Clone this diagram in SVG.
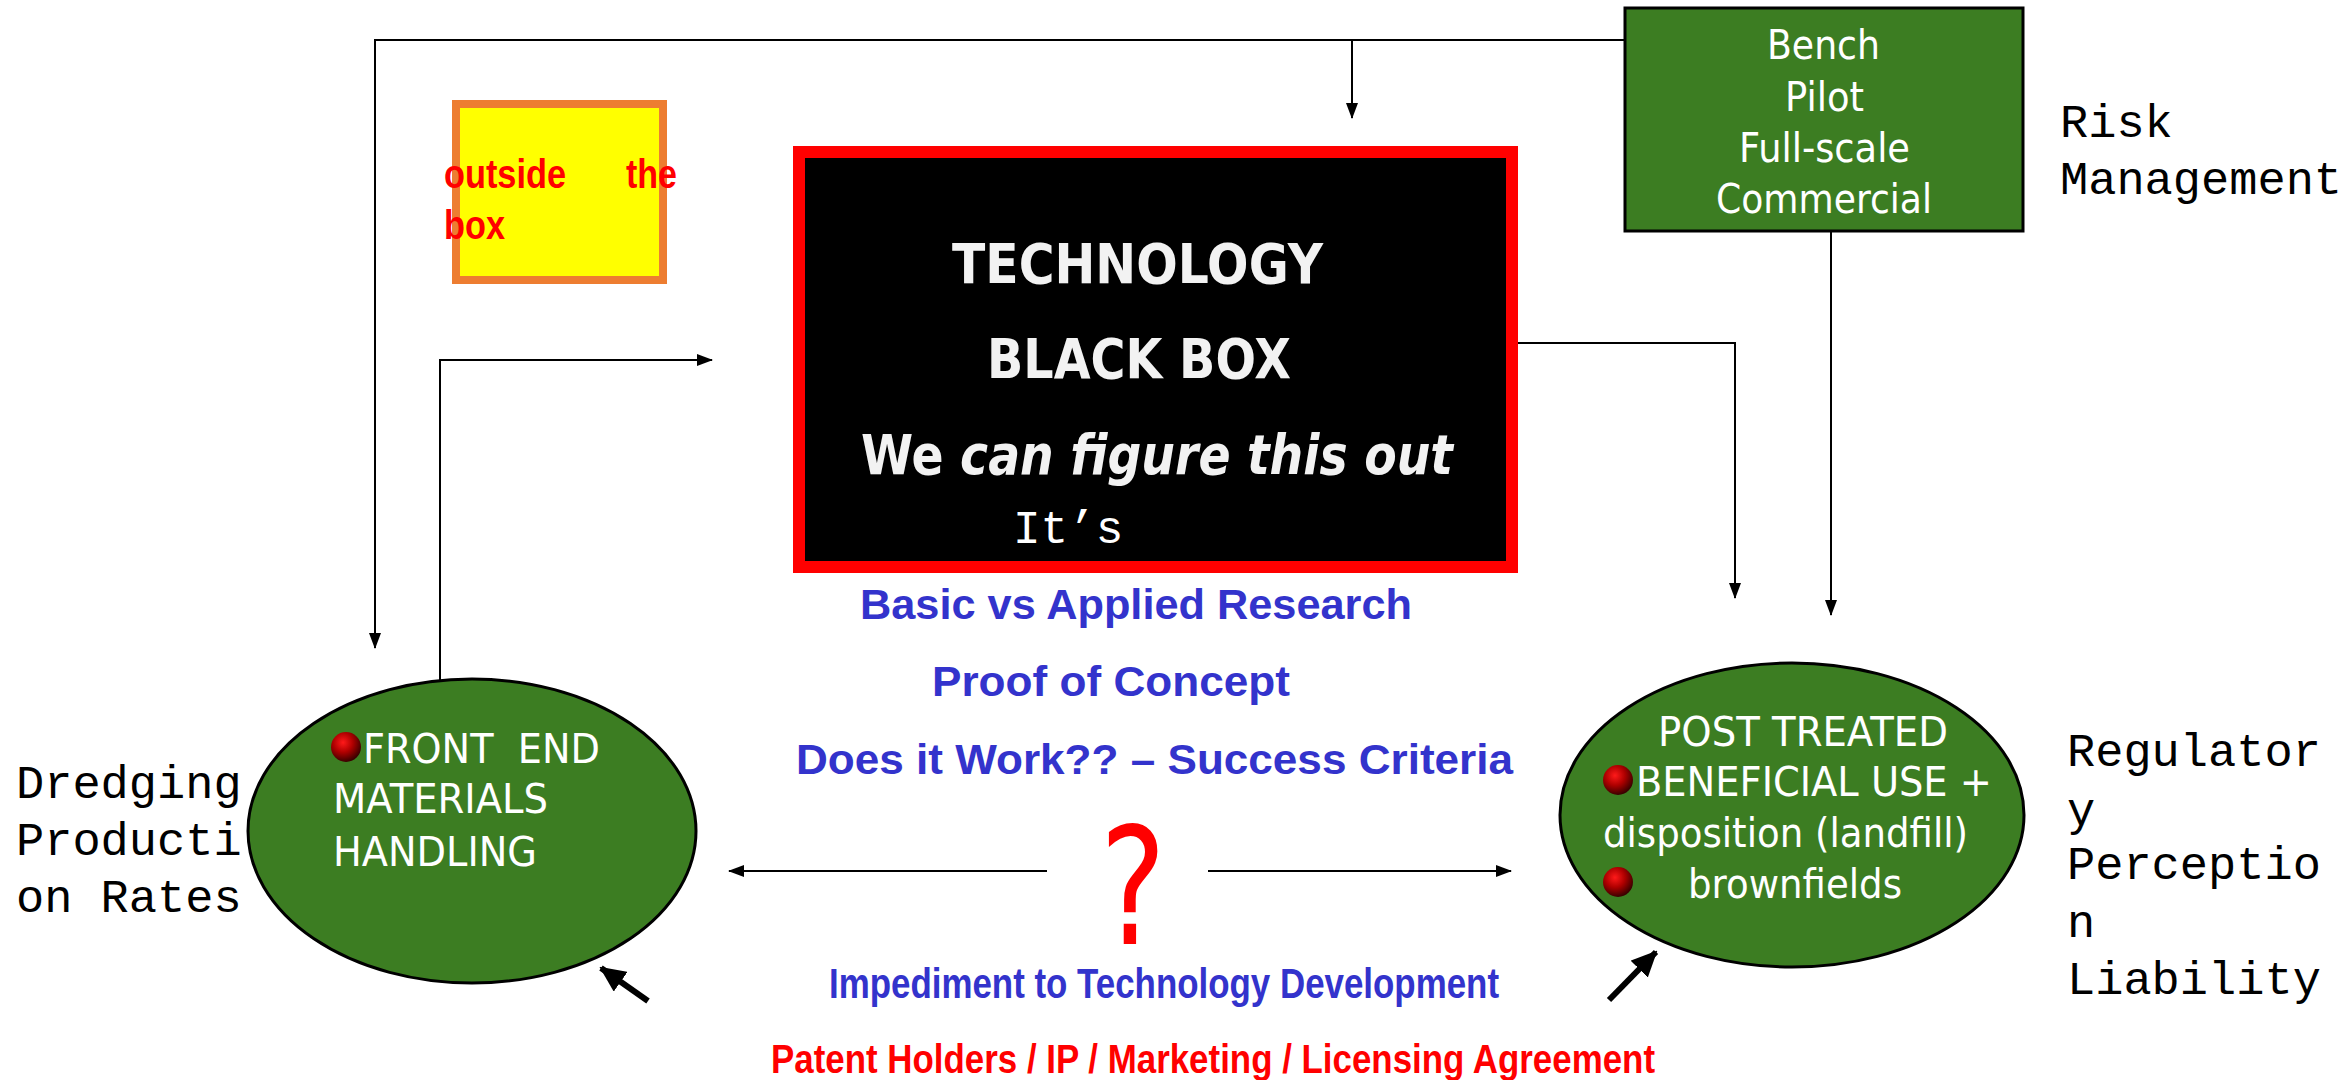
<svg xmlns="http://www.w3.org/2000/svg" width="2352" height="1080" viewBox="0 0 2352 1080">
<style>
.node{font-family:"DejaVu Sans","Verdana",sans-serif;font-size:41px;fill:#ffffff}
.mono{font-family:"Liberation Mono","Courier New",monospace;font-size:47px;fill:#000000}
.narrow{font-family:"Liberation Sans Narrow","Liberation Sans",Arial,sans-serif;font-weight:bold}
.blue{fill:#3333CC;font-size:42px}
.red{fill:#FF0000}
.bb{font-family:"DejaVu Sans","Verdana",sans-serif;font-weight:bold;font-size:55px;fill:#F2F2F2}
.conn{fill:none;stroke:#000000;stroke-width:2}
.thick{fill:none;stroke:#000000;stroke-width:6}
</style>
<defs>
<marker id="arr" markerUnits="userSpaceOnUse" markerWidth="16" markerHeight="12" viewBox="0 0 16 12" refX="15" refY="6" orient="auto">
<path d="M0,0 L16,6 L0,12 Z" fill="#000000"/>
</marker>
<marker id="arrT" markerUnits="userSpaceOnUse" markerWidth="26" markerHeight="24" viewBox="0 0 26 24" refX="24" refY="12" orient="auto">
<path d="M0,0 L26,12 L0,24 Z" fill="#000000"/>
</marker>
<radialGradient id="ball" cx="0.4" cy="0.35" r="0.65">
<stop offset="0" stop-color="#FF1A1A"/>
<stop offset="0.5" stop-color="#B00000"/>
<stop offset="1" stop-color="#3A0000"/>
</radialGradient>
</defs>

<g id="connectors">
<path class="conn" d="M1624,40 H375 V648" marker-end="url(#arr)"/>
<path class="conn" d="M1352,40 V118" marker-end="url(#arr)"/>
<path class="conn" d="M440,680 V360 H712" marker-end="url(#arr)"/>
<path class="conn" d="M1518,343 H1735 V598" marker-end="url(#arr)"/>
<path class="conn" d="M1831,232 V615" marker-end="url(#arr)"/>
<path class="conn" d="M1047,871 H729" marker-end="url(#arr)"/>
<path class="conn" d="M1208,871 H1511" marker-end="url(#arr)"/>
<path class="thick" d="M648,1001 L601,968" marker-end="url(#arrT)"/>
<path class="thick" d="M1609,1000 L1656,952" marker-end="url(#arrT)"/>
</g>

<g id="scale-box">
<rect x="1625" y="8" width="398" height="223" fill="#3C7D22" stroke="#000000" stroke-width="3"/>
<text class="node" x="1767" y="59" textLength="113" lengthAdjust="spacingAndGlyphs">Bench</text>
<text class="node" x="1785" y="111" textLength="79" lengthAdjust="spacingAndGlyphs">Pilot</text>
<text class="node" x="1739" y="162" textLength="171" lengthAdjust="spacingAndGlyphs">Full-scale</text>
<text class="node" x="1716" y="213" textLength="216" lengthAdjust="spacingAndGlyphs">Commercial</text>
</g>

<g id="risk-label">
<text class="mono" x="2060" y="137">Risk</text>
<text class="mono" x="2060" y="194">Management</text>
</g>

<g id="outside-box">
<rect x="456" y="104" width="207" height="176" fill="#FFFF00" stroke="#ED7D31" stroke-width="8"/>
<text class="narrow red" font-size="41" x="444" y="188" textLength="122" lengthAdjust="spacingAndGlyphs">outside</text>
<text class="narrow red" font-size="41" x="626" y="188" textLength="51" lengthAdjust="spacingAndGlyphs">the</text>
<text class="narrow red" font-size="41" x="444" y="239" textLength="61" lengthAdjust="spacingAndGlyphs">box</text>
</g>

<g id="black-box">
<rect x="799" y="152" width="713" height="415" fill="#000000" stroke="#FF0000" stroke-width="12"/>
<text class="bb" x="952" y="283" textLength="371" lengthAdjust="spacingAndGlyphs">TECHNOLOGY</text>
<text class="bb" x="987" y="378" textLength="304" lengthAdjust="spacingAndGlyphs">BLACK BOX</text>
<text class="bb" font-size="54" x="861" y="474" textLength="592" lengthAdjust="spacingAndGlyphs">We <tspan font-style="italic">can figure this out</tspan></text>
<text font-family="Liberation Mono, Courier New, monospace" font-size="46" fill="#FFFFFF" x="1013" y="543">It’s</text>
</g>

<g id="center-text">
<text class="narrow blue" x="860" y="619" textLength="552" lengthAdjust="spacingAndGlyphs">Basic vs Applied Research</text>
<text class="narrow blue" x="932" y="696" textLength="358" lengthAdjust="spacingAndGlyphs">Proof of Concept</text>
<text class="narrow blue" x="796" y="774" textLength="717" lengthAdjust="spacingAndGlyphs">Does it Work?? – Success Criteria</text>
<text font-family="DejaVu Sans, Verdana, sans-serif" font-size="162" fill="#FF0000" x="1100" y="944" textLength="66" lengthAdjust="spacingAndGlyphs">?</text>
<text class="narrow blue" font-size="40" x="829" y="998" textLength="670" lengthAdjust="spacingAndGlyphs">Impediment to Technology Development</text>
<text class="narrow red" font-size="40" x="771" y="1073" textLength="884" lengthAdjust="spacingAndGlyphs">Patent Holders / IP / Marketing / Licensing Agreement</text>
</g>

<g id="front-end">
<ellipse cx="472" cy="831" rx="224" ry="152" fill="#3C7D22" stroke="#000000" stroke-width="3"/>
<circle cx="346" cy="747" r="15" fill="url(#ball)"/>
<text class="node" x="363" y="763" textLength="237" lengthAdjust="spacingAndGlyphs" xml:space="preserve">FRONT  END</text>
<text class="node" x="333" y="813" textLength="215" lengthAdjust="spacingAndGlyphs">MATERIALS</text>
<text class="node" x="333" y="866" textLength="204" lengthAdjust="spacingAndGlyphs">HANDLING</text>
</g>

<g id="dredging-label">
<text class="mono" x="16" y="798">Dredging</text>
<text class="mono" x="16" y="855">Producti</text>
<text class="mono" x="16" y="912">on Rates</text>
</g>

<g id="post-treated">
<ellipse cx="1792" cy="815" rx="232" ry="152" fill="#3C7D22" stroke="#000000" stroke-width="3"/>
<circle cx="1618" cy="780" r="15" fill="url(#ball)"/>
<circle cx="1618" cy="882" r="15" fill="url(#ball)"/>
<text class="node" x="1658" y="746" textLength="290" lengthAdjust="spacingAndGlyphs">POST TREATED</text>
<text class="node" x="1636" y="796" textLength="356" lengthAdjust="spacingAndGlyphs">BENEFICIAL USE +</text>
<text class="node" x="1603" y="847" textLength="365" lengthAdjust="spacingAndGlyphs">disposition (landfill)</text>
<text class="node" x="1688" y="898" textLength="214" lengthAdjust="spacingAndGlyphs">brownfields</text>
</g>

<g id="regulatory-label">
<text class="mono" x="2067" y="766">Regulator</text>
<text class="mono" x="2067" y="825">y</text>
<text class="mono" x="2067" y="879">Perceptio</text>
<text class="mono" x="2067" y="937">n</text>
<text class="mono" x="2067" y="994">Liability</text>
</g>
</svg>
